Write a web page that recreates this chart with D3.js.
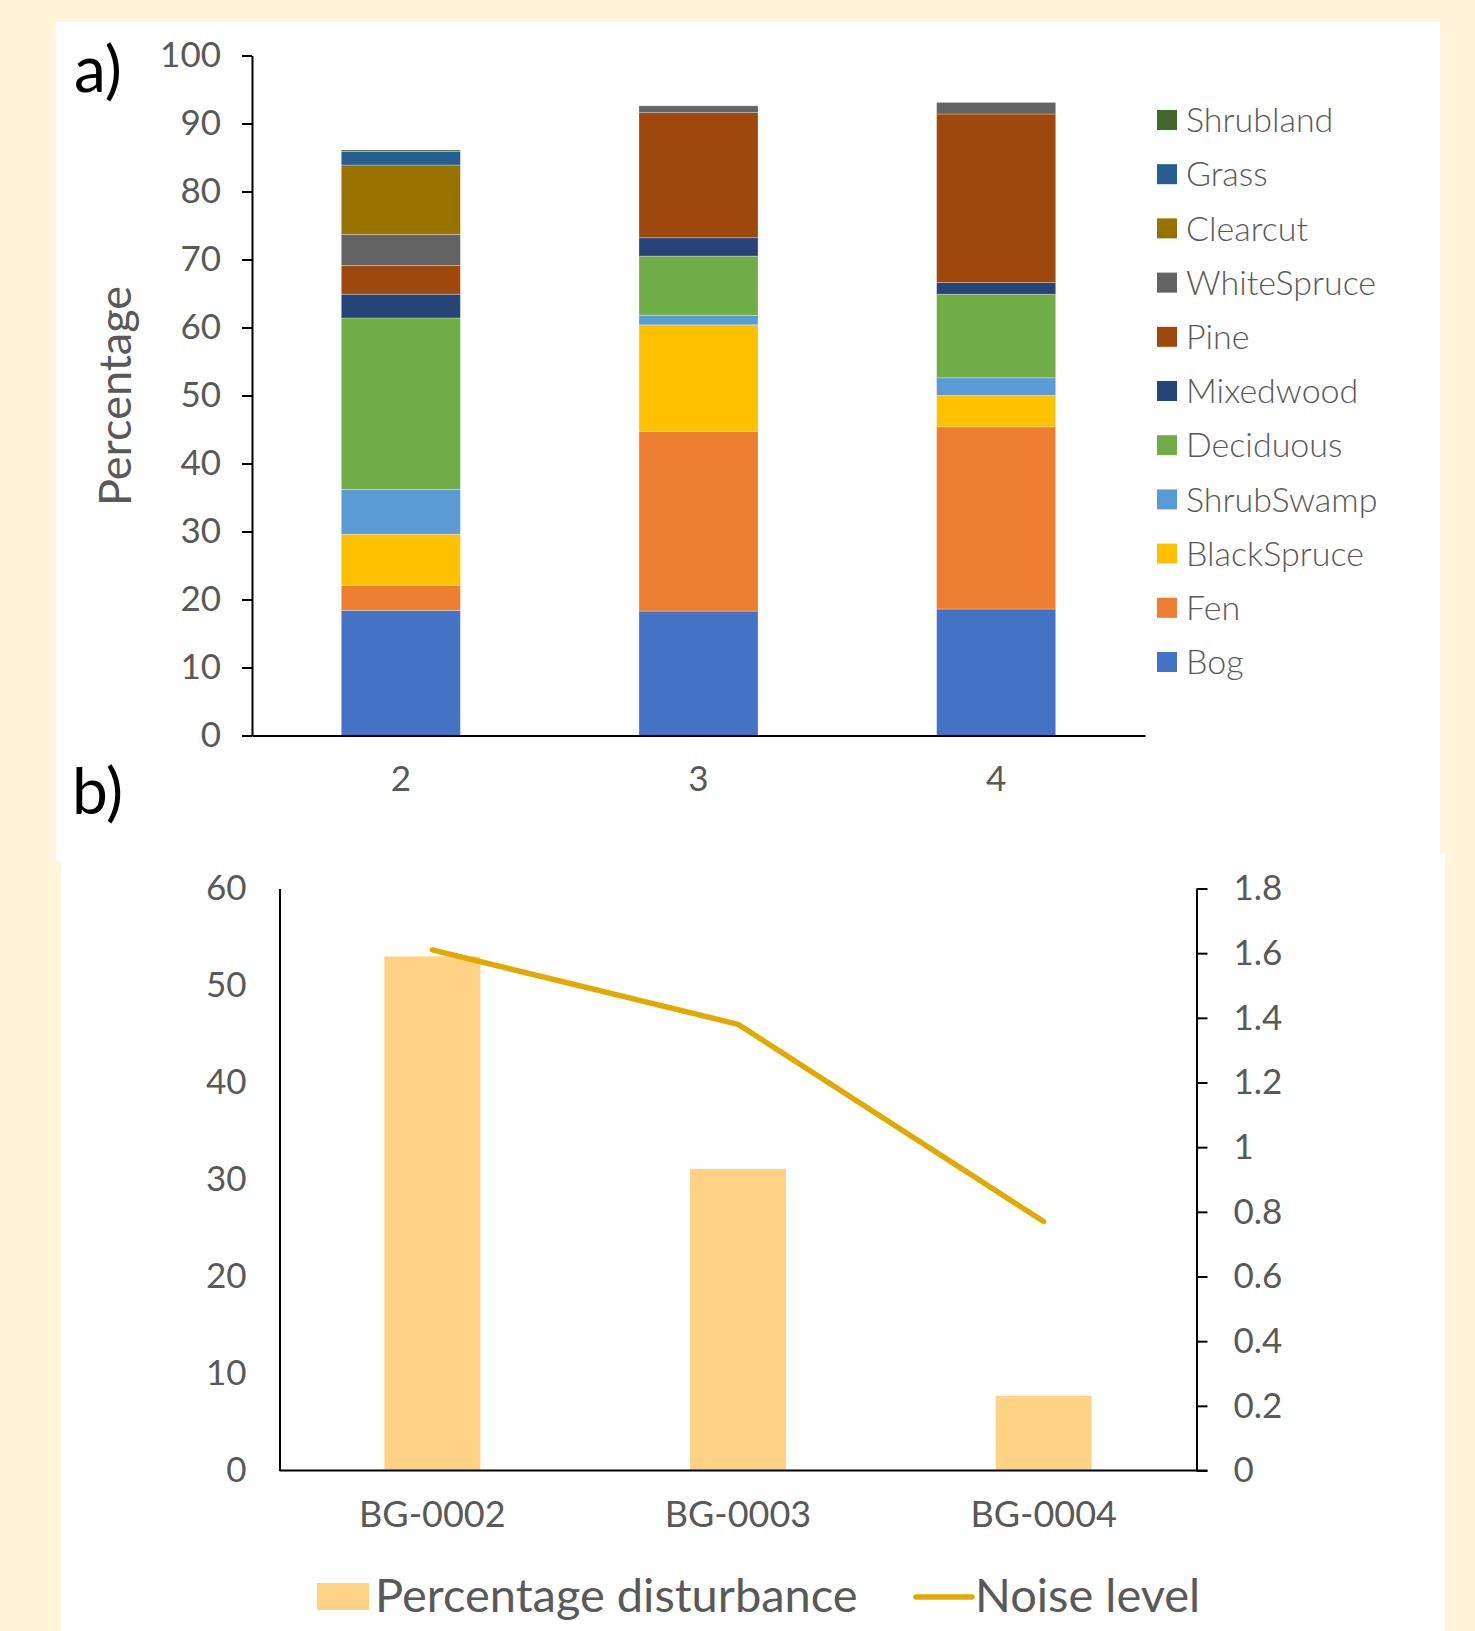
<!DOCTYPE html>
<html>
<head>
<meta charset="utf-8">
<script src="https://cdn.jsdelivr.net/npm/d3@7"></script>
<style>
  body { margin: 0; background: #fff5da; }
  text { font-family: Lato, "Open Sans", sans-serif; fill: #595959; }
</style>
</head>
<body>
<div id="chart"></div>
<script>
// ---- data: panel a) land cover composition (%)
const sites = ["2", "3", "4"];
const classes = ["Bog", "Fen", "BlackSpruce", "ShrubSwamp", "Deciduous", "Mixedwood",
  "Pine", "WhiteSpruce", "Clearcut", "Grass", "Shrubland"];
const bog = [18.4, 18.3, 18.6];
const fen = [3.7, 26.4, 26.8];
const blackSpruce = [7.5, 15.7, 4.6];
const shrubSwamp = [6.6, 1.4, 2.6];
const deciduous = [25.2, 8.7, 12.3];
const mixedwood = [3.5, 2.7, 1.7];
const pine = [4.2, 18.4, 24.8];
const whiteSpruce = [4.6, 1.0, 1.7];
const clearcut = [10.2, 0, 0];
const grass = [2.0, 0, 0];
const shrubland = [0.2, 0, 0];
const yTicksA = [0, 10, 20, 30, 40, 50, 60, 70, 80, 90, 100];

// ---- data: panel b) disturbance and noise
const stations = ["BG-0002", "BG-0003", "BG-0004"];
const disturbance = [53.0, 31.1, 7.7];
const noise = [1.61, 1.38, 0.77];
const yTicksLeft = [0, 10, 20, 30, 40, 50, 60];
const yTicksRight = [0, 0.2, 0.4, 0.6, 0.8, 1, 1.2, 1.4, 1.6, 1.8];

const colors = {
  Bog: "#4472c4", Fen: "#ed7d31", BlackSpruce: "#ffc000", ShrubSwamp: "#5b9bd5",
  Deciduous: "#70ad47", Mixedwood: "#264478", Pine: "#9e480e", WhiteSpruce: "#636363",
  Clearcut: "#997300", Grass: "#255e91", Shrubland: "#43682b"
};

const svg = d3.select("#chart").append("svg")
  .attr("width", 1475)
  .attr("height", 1631);

// white panels
svg.append("rect").attr("x", 61).attr("y", 854).attr("width", 1384).attr("height", 777).attr("fill", "#fff");
svg.append("rect").attr("x", 56).attr("y", 22).attr("width", 1384).attr("height", 839).attr("fill", "#fff");

// ================= panel a =================
const series = [bog, fen, blackSpruce, shrubSwamp, deciduous, mixedwood, pine,
  whiteSpruce, clearcut, grass, shrubland];
const tableA = sites.map((s, i) => {
  const row = { site: s };
  classes.forEach((c, k) => { row[c] = series[k][i]; });
  return row;
});
const stacked = d3.stack().keys(classes)(tableA);

const xA = d3.scaleBand().domain(sites).range([252, 1145]).paddingInner(0.6).paddingOuter(0.3);
const yA = d3.scaleLinear().domain([0, 100]).range([735.5, 55.5]);

const gA = svg.append("g");
gA.selectAll("g.layer")
  .data(stacked)
  .enter()
  .append("g")
  .attr("class", "layer")
  .attr("fill", (d) => colors[d.key])
  .selectAll("rect")
  .data((d) => d)
  .enter()
  .append("rect")
  .attr("x", (d) => xA(d.data.site))
  .attr("y", (d) => yA(d[1]))
  .attr("width", xA.bandwidth())
  .attr("height", (d) => yA(d[0]) - yA(d[1]))
  .attr("stroke", "#fff")
  .attr("stroke-opacity", 0.35)
  .attr("stroke-width", 0.8);

// y axis
const yAxisA = gA.append("g")
  .attr("transform", "translate(252,0)")
  .call(d3.axisLeft(yA).tickValues(yTicksA).tickSize(10).tickSizeOuter(0).tickPadding(21));
yAxisA.selectAll("text").style("font-size", "35px");

// x axis
const xAxisA = gA.append("g")
  .attr("transform", "translate(0,735.5)")
  .call(d3.axisBottom(xA).tickSize(0).tickPadding(31));
xAxisA.selectAll("text").style("font-size", "35px");

gA.selectAll(".domain, .tick line").attr("stroke", "#000").attr("stroke-width", 2);

// y axis title
gA.append("text")
  .attr("transform", "translate(131,396) rotate(-90)")
  .attr("text-anchor", "middle")
  .style("font-size", "45px")
  .text("Percentage");

// legend
const legendA = gA.append("g").attr("transform", "translate(1157,120)");
const legendItems = classes.slice().reverse();
legendItems.forEach((c, i) => {
  const item = legendA.append("g").attr("transform", `translate(0, ${i * 54.2})`);
  item.append("rect").attr("x", 0).attr("y", -10).attr("width", 20).attr("height", 20).attr("fill", colors[c]);
  item.append("text")
    .attr("x", 29)
    .attr("y", 0)
    .attr("dy", "0.36em")
    .style("font-size", "34px")
    .style("font-weight", 300)
    .text(c);
});

svg.append("text").attr("x", 74).attr("y", 92).style("fill", "#000").style("font-size", "64px").text("a)");

// ================= panel b =================
const xB = d3.scaleBand().domain(stations).range([279.5, 1196.5]).paddingInner(0.686).paddingOuter(0.343);
const yL = d3.scaleLinear().domain([0, 60]).range([1470.5, 888.5]);
const yR = d3.scaleLinear().domain([0, 1.8]).range([1470.5, 888.5]);

const gB = svg.append("g");

gB.selectAll("rect.bar")
  .data(disturbance)
  .enter()
  .append("rect")
  .attr("class", "bar")
  .attr("x", (d, i) => xB(stations[i]))
  .attr("y", (d) => yL(d))
  .attr("width", xB.bandwidth())
  .attr("height", (d) => yL(0) - yL(d))
  .attr("fill", "#ffd285");

const leftAxis = gB.append("g")
  .attr("transform", "translate(279.5,0)")
  .call(d3.axisLeft(yL).tickValues(yTicksLeft).tickSize(0).tickPadding(33));
leftAxis.selectAll("text").style("font-size", "35px");

const rightAxis = gB.append("g")
  .attr("transform", "translate(1196.5,0)")
  .call(d3.axisRight(yR).tickValues(yTicksRight).tickSize(11).tickSizeOuter(0).tickPadding(26)
    .tickFormat(d3.format("~g")));
rightAxis.selectAll("text").style("font-size", "35px");

const bottomAxis = gB.append("g")
  .attr("transform", "translate(0,1470.5)")
  .call(d3.axisBottom(xB).tickSize(0).tickPadding(31));
bottomAxis.selectAll("text").style("font-size", "36px");
bottomAxis.select(".domain").attr("d", "M279.5,0H1207.5");

gB.selectAll(".domain, .tick line").attr("stroke", "#000").attr("stroke-width", 2);

gB.append("path")
  .datum(noise)
  .attr("fill", "none")
  .attr("stroke", "#e2aa00")
  .attr("stroke-width", 5.5)
  .attr("stroke-linecap", "round")
  .attr("stroke-linejoin", "round")
  .attr("d", d3.line()
    .x((d, i) => xB(stations[i]) + xB.bandwidth() / 2)
    .y((d) => yR(d)));

// legend b
const legendB = gB.append("g");
legendB.append("rect").attr("x", 317).attr("y", 1583).attr("width", 52).attr("height", 27).attr("fill", "#ffd285");
legendB.append("text").attr("x", 375).attr("y", 1612).style("font-size", "47px").text("Percentage disturbance");
legendB.append("line").attr("x1", 916).attr("x2", 972).attr("y1", 1597).attr("y2", 1597)
  .attr("stroke", "#e2aa00").attr("stroke-width", 5.5).attr("stroke-linecap", "round");
legendB.append("text").attr("x", 975).attr("y", 1612).style("font-size", "47px").text("Noise level");

svg.append("text").attr("x", 72).attr("y", 814).style("fill", "#000").style("font-size", "64px").text("b)");
</script>
</body>
</html>
